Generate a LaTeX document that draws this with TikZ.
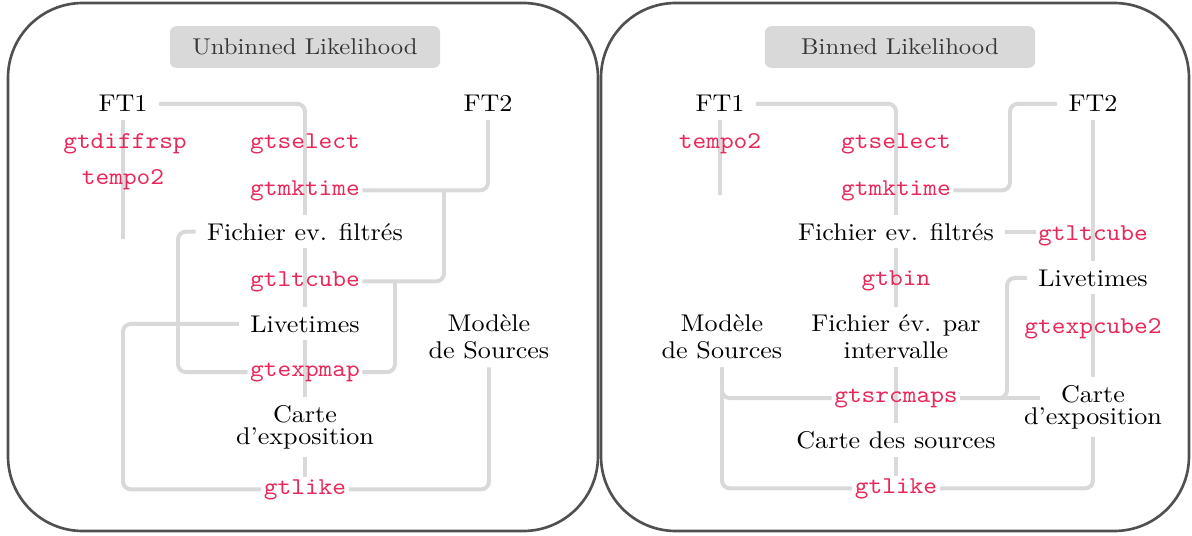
\documentclass[tikz,border=0pt]{standalone}
\usepackage{fontspec}
\setmainfont{lmroman10-regular}[Extension=.otf,FakeStretch=1.08]
\setmonofont{lmmono10-regular}[Extension=.otf,FakeStretch=1.08]
\usetikzlibrary{backgrounds}
\definecolor{toolc}{RGB}{232,40,90}
\definecolor{connc}{RGB}{217,217,217}
\definecolor{panelc}{RGB}{80,80,80}
\definecolor{titlebg}{RGB}{217,217,217}
\definecolor{titletext}{RGB}{55,55,55}
\begin{document}
\begin{tikzpicture}[x=0.455pt,y=-0.455pt,
  font=\fontsize{11}{12.3}\selectfont,
  txt/.style={inner xsep=5pt,inner ysep=3.5pt,align=center},
  tool/.style={text=toolc,font=\fontsize{11}{12.3}\selectfont\ttfamily,inner sep=1pt},
  twoline/.style={font=\fontsize{11}{10}\selectfont},
  conn/.style={draw=connc,line width=1.8pt,rounded corners=3.6pt},
  panelbox/.style={draw=panelc,line width=1.2pt,rounded corners=34pt},
  titlebox/.style={fill=titlebg,text=titletext,font=\fontsize{10.4}{12}\selectfont,rounded corners=3pt,minimum width=123pt,minimum height=19pt,inner sep=0pt}]
\useasboundingbox (0,0) rectangle (1192,536);
\draw[panelbox] (8,3) rectangle (598,531);
\draw[panelbox] (601,3) rectangle (1189,531);

% ---------- left panel ----------
\node[titlebox] (L-title) at (305,47) {Unbinned Likelihood};
\node[txt,anchor=base] (L-ft1) at (123,112) {FT1};
\node[txt,anchor=base] (L-ft2) at (488,112) {FT2};
\node[tool,anchor=base] (L-diff) at (125,148) {gtdiffrsp};
\node[tool,anchor=base] (L-tempo) at (123,184) {tempo2};
\node[tool,anchor=base] (L-select) at (305,148) {gtselect};
\node[tool,anchor=base] (L-mktime) at (305,195) {gtmktime};
\node[txt,anchor=base] (L-fich) at (305,240) {Fichier ev. filtrés};
\node[tool,anchor=base] (L-ltcube) at (305,286) {gtltcube};
\node[txt,anchor=base] (L-live) at (305,332) {Livetimes};
\node[txt] (L-mod) at (489,337) {Modèle\\de Sources};
\node[tool,anchor=base] (L-expmap) at (305,376) {gtexpmap};
\node[txt,twoline] (L-carte) at (305,427) {Carte\\d'exposition};
\node[tool,anchor=base] (L-like) at (305,494) {gtlike};
\coordinate (L-ft1end) at (123,239);
\coordinate (L-j1x) at (444,0);
\coordinate (L-j2x) at (395,0);
\coordinate (L-k1x) at (178,0);
\coordinate (L-k2x) at (123,0);

% ---------- right panel ----------
\node[titlebox] (R-title) at (900,47) {Binned Likelihood};
\node[txt,anchor=base] (R-ft1) at (720,112) {FT1};
\node[txt,anchor=base] (R-ft2) at (1093,112) {FT2};
\node[tool,anchor=base] (R-tempo) at (720,148) {tempo2};
\node[tool,anchor=base] (R-select) at (896,148) {gtselect};
\node[tool,anchor=base] (R-mktime) at (896,195) {gtmktime};
\node[txt,anchor=base] (R-fich) at (896,240) {Fichier ev. filtrés};
\node[tool,anchor=base] (R-ltcube) at (1093,240) {gtltcube};
\node[tool,anchor=base] (R-bin) at (896,285) {gtbin};
\node[txt,anchor=base] (R-live) at (1093,286) {Livetimes};
\node[txt] (R-mod) at (722,337) {Modèle\\de Sources};
\node[txt] (R-fpar) at (896,337) {Fichier év. par\\intervalle};
\node[tool,anchor=base] (R-expcube) at (1093,333) {gtexpcube2};
\node[tool,anchor=base] (R-srcmaps) at (896,402) {gtsrcmaps};
\node[txt,twoline] (R-cexp) at (1093,407) {Carte\\d'exposition};
\node[txt,anchor=base] (R-csrc) at (896,448) {Carte des sources};
\node[tool,anchor=base] (R-like) at (896,493) {gtlike};
\coordinate (R-ft1end) at (720,195);
\coordinate (R-k1x) at (1010,0);
\coordinate (R-k2x) at (1007,0);
\coordinate (R-cexpx) at (1040,0);

\begin{pgfonlayer}{background}
  % left
  \draw[conn] (L-ft1.south) -- (L-ft1end);
  \draw[conn] (L-ft1.east) -| (L-fich.north);
  \draw[conn] (L-ft2.south) |- (L-mktime.east);
  \draw[conn] (L-j1x |- L-mktime.east) |- (L-ltcube.east);
  \draw[conn] (L-j2x |- L-ltcube.east) |- (L-expmap.east);
  \draw[conn] (L-fich.west) -| (L-k1x |- L-expmap.west) -- (L-expmap.west);
  \draw[conn] (L-live.west) -| (L-k2x |- L-like.west) -- (L-like.west);
  \draw[conn] (L-mod.south) |- (L-like.east);
  \draw[conn] (L-fich.south) -- (L-live.north);
  \draw[conn] (L-live.south) -- (L-carte.north);
  \draw[conn] (L-carte.south) -- (L-like.north);
  % right
  \draw[conn] (R-ft1.south) -- (R-ft1end);
  \draw[conn] (R-ft1.east) -| (R-fich.north);
  \draw[conn] (R-ft2.west) -| (R-k1x |- R-mktime.east) -- (R-mktime.east);
  \draw[conn] (R-ft2.south) -- (R-live.north);
  \draw[conn] (R-fich.east) -- (R-fich.east -| R-ltcube.west);
  \draw[conn] (R-fich.south) -- (R-fpar.north);
  \draw[conn] (R-fpar.south) -- (R-csrc.north);
  \draw[conn] (R-csrc.south) -- (R-like.north);
  \draw[conn] (R-live.south) -- (R-cexp.north);
  \draw[conn] (R-live.west) -| (R-k2x |- R-srcmaps.east) -- (R-srcmaps.east);
  \draw[conn] (R-srcmaps.east) -- (R-cexpx |- R-srcmaps.east);
  \draw[conn] (R-mod.south) |- (R-srcmaps.west);
  \draw[conn] (R-mod.south) |- (R-like.west);
  \draw[conn] (R-cexp.south) |- (R-like.east);
\end{pgfonlayer}
\end{tikzpicture}
\end{document}
